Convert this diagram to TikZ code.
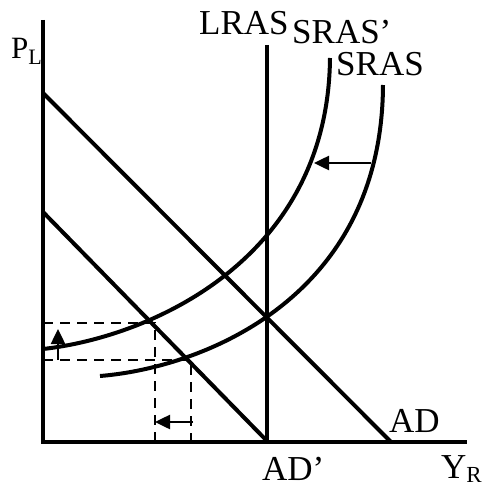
\documentclass[tikz,border=0pt]{standalone}
\usepackage{fontspec}
\setmainfont{Liberation Serif}
\usetikzlibrary{arrows.meta}
\begin{document}
\begin{tikzpicture}[x=1pt,y=-1pt,
  axis/.style={line width=4pt},
  curve/.style={line width=4pt},
  guide/.style={line width=2pt,dash pattern=on 10pt off 7pt},
  movearrow/.style={line width=2.5pt,-{Triangle[length=15pt,width=14pt]}},
  lbl/.style={font=\fontsize{35}{35}\selectfont,inner sep=0pt,anchor=base west}]
\useasboundingbox (0,0) rectangle (485,487);
% axes
\coordinate (O) at (43,442);
\coordinate (ytop) at (43,20);
\coordinate (xend) at (467,442);
\draw[axis] (ytop) -- (O) -- (xend);
% LRAS
\coordinate (lrasT) at (267,45);
\coordinate (lrasB) at (267,442);
\draw[axis] (lrasT) -- (lrasB);
% AD and AD'
\coordinate (adT) at (43,93);
\coordinate (adB) at (391,442);
\draw[curve] (adT) -- (adB);
\coordinate (adpT) at (43,212);
\coordinate (adpB) at (268,442);
\draw[curve] (adpT) -- (adpB);
% SRAS'
\coordinate (sp0) at (43,349);
\coordinate (sp1) at (150,337);
\coordinate (sp2) at (328,260);
\coordinate (sp3) at (330,58);
\draw[curve] (sp0) .. controls (sp1) and (sp2) .. (sp3);
% SRAS
\coordinate (s0) at (100,376);
\coordinate (s1) at (200,368);
\coordinate (s2) at (382,300);
\coordinate (s3) at (383,85);
\draw[curve] (s0) .. controls (s1) and (s2) .. (s3);
% dashed guides
\coordinate (e1) at (155,323);
\coordinate (e2) at (191,360);
\coordinate (e1y) at (43,323);
\coordinate (e2y) at (43,360);
\coordinate (e1x) at (155,442);
\coordinate (e2x) at (191,442);
\draw[guide] (e1y) -- (e1) -- (e1x);
\draw[guide] (e2y) -- (e2) -- (e2x);
% shift arrows
\coordinate (upS) at (58,360);
\coordinate (upE) at (58,329);
\draw[movearrow] (upS) -- (upE);
\coordinate (lfS) at (193,422);
\coordinate (lfE) at (155,422);
\draw[movearrow] (lfS) -- (lfE);
\coordinate (srS) at (371,163);
\coordinate (srE) at (314,163);
\draw[movearrow] (srS) -- (srE);
% labels
\node[lbl] (lLRAS) at (199,35) {LRAS};
\node[lbl] (lSRASp) at (292,44) {SRAS’};
\node[lbl] (lSRAS) at (336,75) {SRAS};
\node[lbl] (lAD) at (389,432) {AD};
\node[lbl] (lADp) at (262,480) {AD’};
\node[lbl,font=\fontsize{31}{31}\selectfont] (lP) at (11,59) {P\raisebox{-6pt}{\fontsize{22}{22}\selectfont L}};
\node[lbl] (lY) at (441,478) {Y\raisebox{-4pt}{\fontsize{23}{23}\selectfont R}};
\end{tikzpicture}
\end{document}
